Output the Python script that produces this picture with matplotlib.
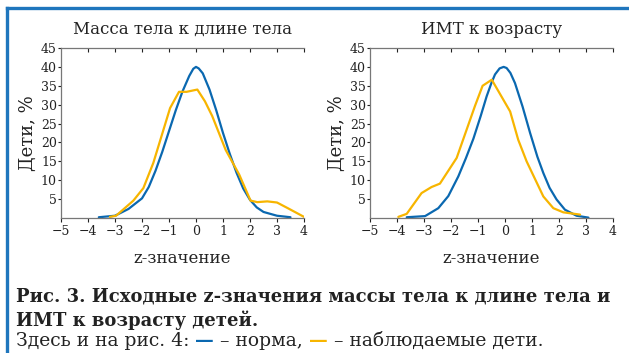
import matplotlib
matplotlib.use("Agg")
import matplotlib.pyplot as plt
from matplotlib.lines import Line2D

plt.rcParams['font.family'] = ['DejaVu Serif']

# --- data ---
# left panel: weight-for-length
wl_norm_z = [-3.6, -3.0, -2.5, -2.0, -1.75, -1.5, -1.25, -1.0, -0.75, -0.5, -0.25, -0.1, 0.0,
             0.1, 0.25, 0.5, 0.75, 1.0, 1.25, 1.5, 1.75, 2.0, 2.25, 2.5, 3.0, 3.5]
wl_norm_v = [0.2, 0.6, 2.4, 5.2, 8.2, 12.5, 17.5, 23.0, 28.5, 33.5, 37.6, 39.5, 40.0,
             39.6, 38.3, 34.0, 28.5, 22.5, 17.0, 12.0, 7.8, 4.8, 2.8, 1.6, 0.6, 0.2]
wl_obs_z = [-3.19, -2.96, -2.32, -1.95, -1.58, -0.96, -0.63, -0.35, 0.05, 0.33, 0.6, 1.1, 1.6,
            2.02, 2.27, 2.64, 3.0, 3.4, 4.0]
wl_obs_v = [0.3, 0.6, 4.6, 7.9, 14.6, 29.1, 33.4, 33.4, 34.0, 30.9, 27.0, 18.0, 11.5,
            4.6, 4.2, 4.4, 4.1, 2.6, 0.3]

# right panel: BMI-for-age
ba_norm_z = [-3.64, -2.96, -2.47, -2.1, -1.73, -1.45, -1.17, -0.9, -0.68, -0.5, -0.37, -0.2,
             -0.05, 0.06, 0.2, 0.37, 0.65, 0.93, 1.2, 1.42, 1.65, 1.91, 2.22, 2.65, 3.09]
ba_norm_v = [0.2, 0.5, 2.6, 5.8, 11.0, 15.8, 21.0, 27.0, 32.2, 35.8, 38.0, 39.6,
             40.0, 39.7, 38.4, 35.7, 29.5, 22.5, 16.2, 11.9, 8.0, 4.9, 2.2, 0.6, 0.1]
ba_obs_z = [-3.95, -3.64, -3.09, -2.72, -2.41, -1.79, -1.11, -0.83, -0.49, 0.19, 0.49, 0.8,
            1.42, 1.79, 2.16, 2.78]
ba_obs_v = [0.3, 1.1, 6.6, 8.2, 9.1, 15.9, 29.7, 35.0, 36.6, 28.2, 20.7, 15.0,
            5.7, 2.6, 1.5, 0.9]

titles = ["Масса тела к длине тела", "ИМТ к возрасту"]
xticks = [-5, -4, -3, -2, -1, 0, 1, 2, 3, 4]
yticks = [5, 10, 15, 20, 25, 30, 35, 40, 45]

BLUE = "#0a68b0"
ORANGE = "#f7b500"
FRAME = "#1f76bd"
TXT = "#222222"

fig = plt.figure(figsize=(6.29, 3.53), dpi=100)

panels = [
    (wl_norm_z, wl_norm_v, wl_obs_z, wl_obs_v),
    (ba_norm_z, ba_norm_v, ba_obs_z, ba_obs_v),
]
lefts = [61 / 629, 370 / 629]
for i, (nz, nv, oz, ov) in enumerate(panels):
    ax = fig.add_axes([lefts[i], 1 - 218 / 353, 243 / 629, 170 / 353])
    ax.plot(nz, nv, color=BLUE, lw=1.6, solid_capstyle='round', solid_joinstyle='round')
    ax.plot(oz, ov, color=ORANGE, lw=1.6, solid_capstyle='round', solid_joinstyle='round')
    ax.set_xlim(-5, 4)
    ax.set_ylim(0, 45)
    ax.set_xticks(xticks)
    ax.set_xticklabels(["\u2212%d" % -t if t < 0 else str(t) for t in xticks])
    ax.set_yticks(yticks)
    ax.spines['right'].set_visible(False)
    for s in ['left', 'top', 'bottom']:
        ax.spines[s].set_color("#777777")
        ax.spines[s].set_linewidth(0.9)
    ax.tick_params(axis='x', direction='out', length=3, width=0.8, labelsize=9,
                   colors=TXT, pad=2)
    ax.tick_params(axis='y', direction='out', length=2, width=0.8, labelsize=9,
                   colors=TXT, pad=1)
    # small ticks hanging from the top spine
    top = ax.secondary_xaxis('top')
    top.set_xticks(xticks[1:])
    top.tick_params(direction='in', length=3, width=0.8, labeltop=False, colors=TXT)
    top.spines['top'].set_visible(False)
    ax.set_title(titles[i], fontsize=12, color=TXT, pad=10)
    ax.set_xlabel("z-значение", fontsize=12, color=TXT, labelpad=9)
    ax.set_ylabel("Дети, %", fontsize=13, color=TXT, labelpad=3)

# blue frame lines
fig.add_artist(Line2D([7 / 629, 1], [1 - 8 / 353, 1 - 8 / 353], transform=fig.transFigure,
                      color=FRAME, lw=2.4))
fig.add_artist(Line2D([7 / 629, 7 / 629], [0, 1 - 8 / 353], transform=fig.transFigure,
                      color=FRAME, lw=2.4))

# caption
fs_b = 13
fs_n = 13.5
fig.text(16 / 629, 1 - 296 / 353, "Рис. 3. Исходные z-значения массы тела к длине тела и",
         fontweight='bold', va='center', fontsize=fs_b, color=TXT)
fig.text(16 / 629, 1 - 320 / 353, "ИМТ к возрасту детей.", fontweight='bold', va='center',
         fontsize=fs_b, color=TXT)
prev = fig.text(16 / 629, 1 - 341 / 353, "Здесь и на рис. 4: ", va='center',
                fontsize=fs_n, color=TXT)
parts = [("\u2014", BLUE, 'bold'), (" \u2013 норма, ", TXT, 'normal'),
         ("\u2014", ORANGE, 'bold'), (" \u2013 наблюдаемые дети.", TXT, 'normal')]
for s, c, w in parts:
    prev = plt.annotate(s, xy=(1, 0.5), xycoords=prev, va='center', ha='left',
                        fontsize=fs_n, color=c, fontweight=w)

fig.savefig("out.png", dpi=100)
